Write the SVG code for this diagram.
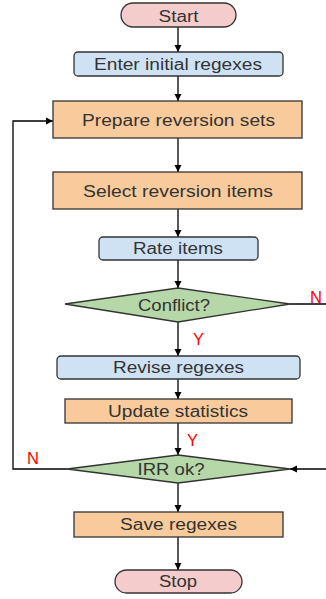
<svg xmlns="http://www.w3.org/2000/svg" width="326" height="599" viewBox="0 0 326 599">
<defs>
<style>
.n{stroke:#333;stroke-width:1.3}
.term{fill:#f4cccc}
.blue{fill:#cfe2f3}
.org{fill:#f9cb9c}
.grn{fill:#b6d7a8}
.t{font-family:"Liberation Sans",Arial,sans-serif;font-size:16px;fill:#333;text-anchor:middle}
.c{fill:none;stroke:#000;stroke-width:1.3}
.lbl{font-family:"Liberation Sans",Arial,sans-serif;font-size:16px;fill:#ff0000;text-anchor:middle}
</style>
<marker id="ah" markerWidth="8" markerHeight="8" refX="7" refY="4" orient="auto" markerUnits="userSpaceOnUse">
<path d="M0,0.5 L7,4 L0,7.5 Z" fill="#000"/>
</marker>
</defs>
<rect width="326" height="599" fill="#fff"/>
<g id="connectors">
<line class="c" x1="178" y1="27" x2="178" y2="52" marker-end="url(#ah)"/>
<line class="c" x1="178" y1="76" x2="178" y2="101" marker-end="url(#ah)"/>
<line class="c" x1="178" y1="138" x2="178" y2="172" marker-end="url(#ah)"/>
<line class="c" x1="178" y1="209" x2="178" y2="237" marker-end="url(#ah)"/>
<line class="c" x1="178" y1="260" x2="178" y2="288" marker-end="url(#ah)"/>
<line class="c" x1="178" y1="322" x2="178" y2="356" marker-end="url(#ah)"/>
<line class="c" x1="178" y1="379" x2="178" y2="399" marker-end="url(#ah)"/>
<line class="c" x1="178" y1="423" x2="178" y2="455" marker-end="url(#ah)"/>
<line class="c" x1="178" y1="483" x2="178" y2="512" marker-end="url(#ah)"/>
<line class="c" x1="178" y1="537" x2="178" y2="570" marker-end="url(#ah)"/>
<line class="c" x1="290" y1="304" x2="327" y2="304"/>
<line class="c" x1="327" y1="469" x2="290" y2="469" marker-end="url(#ah)"/>
<polyline class="c" points="67,469 13,469 13,121 53,121" marker-end="url(#ah)"/>
<text class="lbl" x="198.5" y="345" textLength="11" lengthAdjust="spacingAndGlyphs">Y</text>
<text class="lbl" x="192.5" y="446" textLength="11" lengthAdjust="spacingAndGlyphs">Y</text>
<text class="lbl" x="316" y="303" textLength="12" lengthAdjust="spacingAndGlyphs">N</text>
<text class="lbl" x="33" y="464" textLength="12" lengthAdjust="spacingAndGlyphs">N</text>
</g>
<g id="start">
<rect class="n term" x="121" y="3" width="115" height="24" rx="12"/>
<text class="t" x="178.5" y="22" textLength="40" lengthAdjust="spacingAndGlyphs">Start</text>
</g>
<g id="enter">
<rect class="n blue" x="74" y="52" width="209" height="24" rx="4"/>
<text class="t" x="178" y="70" textLength="168" lengthAdjust="spacingAndGlyphs">Enter initial regexes</text>
</g>
<g id="prepare">
<rect class="n org" x="53" y="101" width="249" height="37"/>
<text class="t" x="178.5" y="126" textLength="193" lengthAdjust="spacingAndGlyphs">Prepare reversion sets</text>
</g>
<g id="select">
<rect class="n org" x="53" y="172" width="249" height="37"/>
<text class="t" x="178" y="197" textLength="190" lengthAdjust="spacingAndGlyphs">Select reversion items</text>
</g>
<g id="rate">
<rect class="n blue" x="99" y="237" width="159" height="23" rx="4"/>
<text class="t" x="178" y="254" textLength="90" lengthAdjust="spacingAndGlyphs">Rate items</text>
</g>
<g id="conflict">
<polygon class="n grn" points="178,288 290,304 178,322 65,304"/>
<text class="t" x="174" y="311" textLength="72" lengthAdjust="spacingAndGlyphs">Conflict?</text>
</g>
<g id="revise">
<rect class="n blue" x="57" y="356" width="243" height="23" rx="4"/>
<text class="t" x="178.5" y="373" textLength="131" lengthAdjust="spacingAndGlyphs">Revise regexes</text>
</g>
<g id="update">
<rect class="n org" x="65" y="399" width="227" height="24"/>
<text class="t" x="178" y="417" textLength="140" lengthAdjust="spacingAndGlyphs">Update statistics</text>
</g>
<g id="irr">
<polygon class="n grn" points="178,455 290,469 178,483 67,469"/>
<text class="t" x="171" y="475" textLength="67" lengthAdjust="spacingAndGlyphs">IRR ok?</text>
</g>
<g id="save">
<rect class="n org" x="74" y="512" width="209" height="25"/>
<text class="t" x="178.5" y="530" textLength="117" lengthAdjust="spacingAndGlyphs">Save regexes</text>
</g>
<g id="stop">
<rect class="n term" x="115" y="570" width="127" height="23" rx="11.5"/>
<text class="t" x="178" y="587" textLength="38" lengthAdjust="spacingAndGlyphs">Stop</text>
</g>
</svg>
